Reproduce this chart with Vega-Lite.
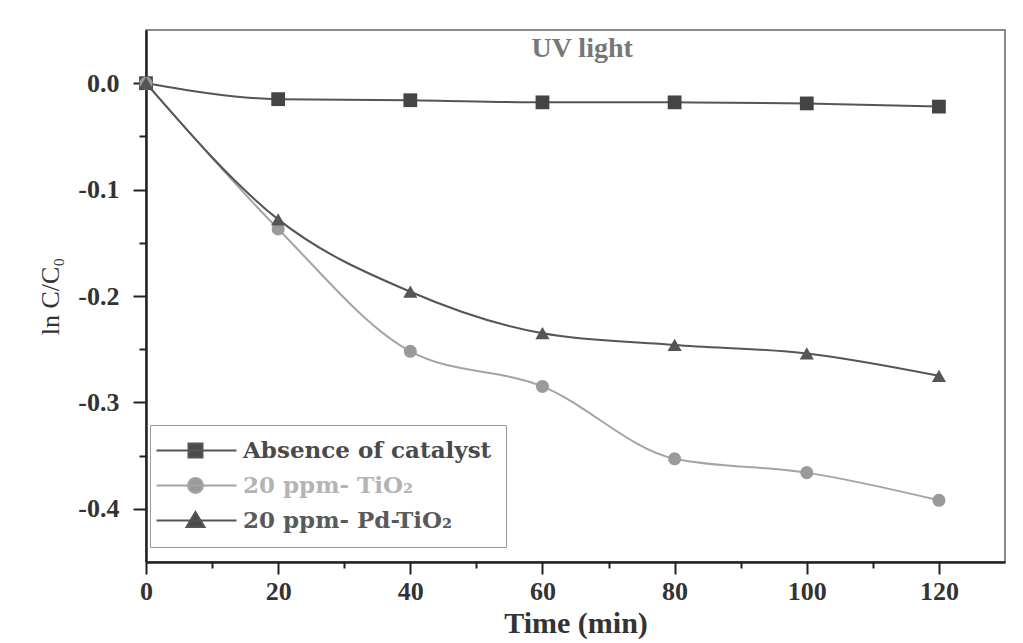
{
  "$schema": "https://vega.github.io/schema/vega-lite/v6.json",
  "width": 859,
  "height": 532,
  "autosize": "none",
  "padding": {"left": 146, "top": 30, "right": 18, "bottom": 81},
  "background": "white",
  "config": {
    "view": {"stroke": "#666", "strokeWidth": 1.5},
    "font": "Liberation Serif"
  },
  "data": {
    "values": [
      {"series": "Absence of catalyst", "time": 0, "lnC": 0},
      {"series": "Absence of catalyst", "time": 20, "lnC": -0.015},
      {"series": "Absence of catalyst", "time": 40, "lnC": -0.016},
      {"series": "Absence of catalyst", "time": 60, "lnC": -0.018},
      {"series": "Absence of catalyst", "time": 80, "lnC": -0.018},
      {"series": "Absence of catalyst", "time": 100, "lnC": -0.019},
      {"series": "Absence of catalyst", "time": 120, "lnC": -0.022},
      {"series": "20 ppm- TiO₂", "time": 0, "lnC": 0},
      {"series": "20 ppm- TiO₂", "time": 20, "lnC": -0.137},
      {"series": "20 ppm- TiO₂", "time": 40, "lnC": -0.252},
      {"series": "20 ppm- TiO₂", "time": 60, "lnC": -0.285},
      {"series": "20 ppm- TiO₂", "time": 80, "lnC": -0.353},
      {"series": "20 ppm- TiO₂", "time": 100, "lnC": -0.366},
      {"series": "20 ppm- TiO₂", "time": 120, "lnC": -0.392},
      {"series": "20 ppm- Pd-TiO₂", "time": 0, "lnC": 0},
      {"series": "20 ppm- Pd-TiO₂", "time": 20, "lnC": -0.128},
      {"series": "20 ppm- Pd-TiO₂", "time": 40, "lnC": -0.196},
      {"series": "20 ppm- Pd-TiO₂", "time": 60, "lnC": -0.235},
      {"series": "20 ppm- Pd-TiO₂", "time": 80, "lnC": -0.246},
      {"series": "20 ppm- Pd-TiO₂", "time": 100, "lnC": -0.254},
      {"series": "20 ppm- Pd-TiO₂", "time": 120, "lnC": -0.275}
    ]
  },
  "resolve": {
    "axis": {"x": "independent", "y": "independent"}
  },
  "layer": [
    {
      "transform": [{"filter": "datum.series == 'Absence of catalyst'"}],
      "mark": {"type": "line", "interpolate": "monotone", "strokeWidth": 2, "color": "#555555"},
      "encoding": {
        "x": {
          "field": "time", "type": "quantitative",
          "scale": {"domain": [0, 130], "nice": false},
          "axis": {
            "orient": "bottom", "values": [0, 20, 40, 60, 80, 100, 120],
            "grid": false, "tickSize": 12, "tickWidth": 2, "tickColor": "#222",
            "domainColor": "#222", "domainWidth": 2.5,
            "labelFont": "Liberation Serif", "labelFontWeight": "bold", "labelFontSize": 26,
            "labelColor": "#333", "labelPadding": 4, "labelFlush": false, "labelOverlap": false,
            "title": "Time (min)", "titleFont": "Liberation Serif", "titleFontWeight": "bold",
            "titleFontSize": 30, "titleColor": "#333", "titlePadding": 4
          }
        },
        "y": {
          "field": "lnC", "type": "quantitative",
          "scale": {"domain": [-0.45, 0.05], "nice": false, "zero": false},
          "axis": {
            "orient": "left", "values": [0, -0.1, -0.2, -0.3, -0.4],
            "labelExpr": "replace(format(datum.value, '.1f'), '−', '-')",
            "grid": false, "tickSize": 13, "tickWidth": 2, "tickColor": "#222",
            "domainColor": "#222", "domainWidth": 2.5,
            "labelFont": "Liberation Serif", "labelFontWeight": "bold", "labelFontSize": 26,
            "labelColor": "#333", "labelPadding": 14, "labelOverlap": false,
            "title": "ln C/C₀", "titleFont": "Liberation Serif", "titleFontWeight": "normal",
            "titleFontSize": 26, "titleColor": "#333", "titlePadding": 14
          }
        }
      }
    },
    {
      "transform": [{"filter": "datum.series == '20 ppm- TiO₂'"}],
      "mark": {"type": "line", "interpolate": "monotone", "strokeWidth": 2, "color": "#a4a4a4"},
      "encoding": {
        "x": {"field": "time", "type": "quantitative", "axis": null},
        "y": {"field": "lnC", "type": "quantitative", "axis": null}
      }
    },
    {
      "transform": [{"filter": "datum.series == '20 ppm- Pd-TiO₂'"}],
      "mark": {"type": "line", "interpolate": "monotone", "strokeWidth": 2, "color": "#555555"},
      "encoding": {
        "x": {"field": "time", "type": "quantitative", "axis": null},
        "y": {"field": "lnC", "type": "quantitative", "axis": null}
      }
    },
    {
      "transform": [{"filter": "datum.series == 'Absence of catalyst'"}],
      "mark": {"type": "point", "shape": "square", "filled": true, "opacity": 1, "size": 190, "fill": "#444444"},
      "encoding": {
        "x": {"field": "time", "type": "quantitative", "axis": null},
        "y": {"field": "lnC", "type": "quantitative", "axis": null}
      }
    },
    {
      "transform": [{"filter": "datum.series == '20 ppm- TiO₂'"}],
      "mark": {"type": "point", "shape": "circle", "filled": true, "opacity": 1, "size": 170, "fill": "#9a9a9a"},
      "encoding": {
        "x": {"field": "time", "type": "quantitative", "axis": null},
        "y": {"field": "lnC", "type": "quantitative", "axis": null}
      }
    },
    {
      "transform": [{"filter": "datum.series == '20 ppm- Pd-TiO₂'"}],
      "mark": {"type": "point", "shape": "triangle-up", "filled": true, "opacity": 1, "size": 200, "fill": "#555555"},
      "encoding": {
        "x": {"field": "time", "type": "quantitative", "axis": null},
        "y": {"field": "lnC", "type": "quantitative", "axis": null}
      }
    },
    {
      "mark": {
        "type": "point", "filled": true, "opacity": 0, "strokeWidth": 2,
        "fill": {"expr": "(datum.series || datum.value) == '20 ppm- TiO₂' ? '#9a9a9a' : '#4a4a4a'"},
        "stroke": {"expr": "(datum.series || datum.value) == '20 ppm- TiO₂' ? '#a4a4a4' : '#555555'"}
      },
      "encoding": {
        "x": {
          "field": "time", "type": "quantitative",
          "axis": {
            "orient": "bottom", "values": [10, 30, 50, 70, 90, 110],
            "labels": false, "domain": false, "grid": false, "title": null,
            "tickSize": 6, "tickWidth": 2, "tickColor": "#222"
          }
        },
        "y": {
          "field": "lnC", "type": "quantitative",
          "axis": {
            "orient": "left", "values": [-0.05, -0.15, -0.25, -0.35],
            "labels": false, "domain": false, "grid": false, "title": null,
            "tickSize": 7, "tickWidth": 2, "tickColor": "#222"
          }
        },
        "shape": {
          "field": "series", "type": "nominal",
          "scale": {
            "domain": ["Absence of catalyst", "20 ppm- TiO₂", "20 ppm- Pd-TiO₂"],
            "range": [
              "M-1.9,0H6.1M1.3,-0.7H2.7V0.7H1.3Z",
              "M2.75,0A0.75,0.75 0 1,1 1.25,0A0.75,0.75 0 1,1 2.75,0Z M-1.9,0H6.1",
              "M-1.9,0H6.1M2,-0.85L2.9,0.65L1.1,0.65Z"
            ]
          },
          "legend": {
            "title": null, "orient": "none", "legendX": 4, "legendY": 395,
            "symbolSize": 400, "symbolOpacity": 1, "symbolStrokeWidth": 2,
            "labelFont": "DejaVu Serif", "labelFontWeight": "bold", "labelFontSize": 23,
            "labelColor": {"expr": "datum.value == '20 ppm- TiO₂' ? '#b4b4b4' : (datum.value == 'Absence of catalyst' ? '#4a4a4a' : '#5a5a5a')"},
            "labelOffset": 56, "labelLimit": 400,
            "padding": 14, "rowPadding": 10,
            "strokeColor": "#999", "fillColor": "white"
          }
        }
      }
    },
    {
      "data": {"values": [{"label": "UV light"}]},
      "mark": {"type": "text", "font": "Liberation Serif", "fontWeight": "bold", "fontSize": 28, "color": "#777", "baseline": "alphabetic", "align": "center"},
      "encoding": {
        "x": {"datum": 66, "type": "quantitative", "axis": null},
        "y": {"datum": 0.0245, "type": "quantitative", "axis": null},
        "text": {"field": "label"}
      }
    }
  ]
}
